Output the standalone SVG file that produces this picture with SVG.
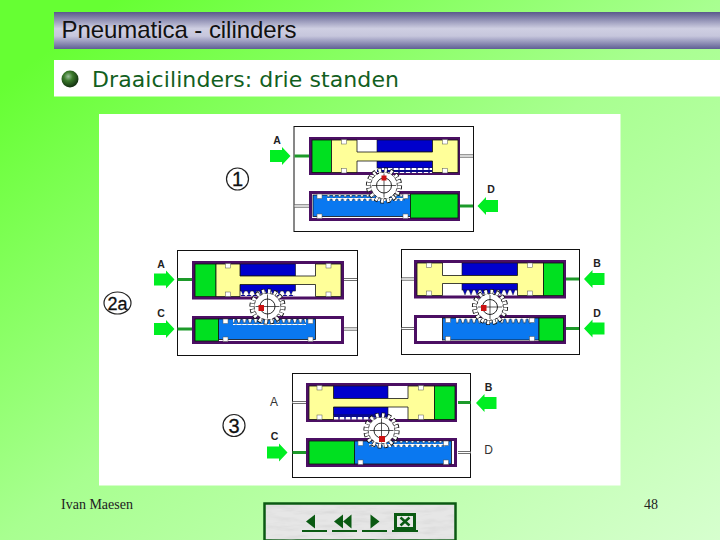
<svg xmlns="http://www.w3.org/2000/svg" width="720" height="540" viewBox="0 0 720 540">
<style>
.box{fill:#fff;stroke:#111;stroke-width:1}
.cyl{fill:#fff;stroke:#4b0f63;stroke-width:3}
.y{fill:#ffff99;stroke:#111;stroke-width:.8}
.g{fill:#00e020;stroke:#111;stroke-width:.8}
.b{fill:#0000cc;stroke:#111;stroke-width:.6}
.lb{fill:#0a78f0;stroke:#111;stroke-width:.8}
.n{fill:#fff;stroke:#555;stroke-width:.5}
.pg{stroke:#1d9a2a;stroke-width:3;fill:none}
.pw{stroke:#333;stroke-width:3;fill:none}
.pwi{stroke:#fff;stroke-width:1.600;fill:none}
.arr{fill:#00ee22}
.bold{font:bold 10.500px "Liberation Sans",Arial,sans-serif;fill:#222;text-anchor:middle}
.reg{font:12px "Liberation Sans",Arial,sans-serif;fill:#333;text-anchor:middle}
.num{font:20px "Liberation Sans",Arial,sans-serif;fill:#111;text-anchor:middle;stroke:#111;stroke-width:.3}
.ring{fill:#fff;stroke:#222;stroke-width:1.200}
.foot{font:14px "Liberation Serif","Times New Roman",serif;fill:#222}
.nav{fill:#0a5a12}
</style>
<defs>
<linearGradient id="bg" x1="0" y1="0" x2="1" y2="1">
<stop offset="0.08" stop-color="#66ff33"/><stop offset="0.5" stop-color="#a8ff90"/><stop offset="1" stop-color="#d6ffce"/>
</linearGradient>
<linearGradient id="bar" x1="0" y1="0" x2="0" y2="1">
<stop offset="0" stop-color="#5a5a8c"/><stop offset="0.45" stop-color="#cfcfe2"/><stop offset="0.65" stop-color="#c6c6dc"/><stop offset="1" stop-color="#5f5f94"/>
</linearGradient>
<radialGradient id="ball" cx="0.4" cy="0.35" r="0.65">
<stop offset="0" stop-color="#9cc09c"/><stop offset="0.4" stop-color="#3c7a2c"/><stop offset="1" stop-color="#12300f"/>
</radialGradient>
<filter id="marble" x="0" y="0" width="1" height="1">
<feTurbulence type="fractalNoise" baseFrequency="0.04 0.2" numOctaves="3" seed="4"/>
<feColorMatrix values="0 0 0 0 .6  0 0 0 0 .6  0 0 0 0 .6  .7 .7 0 0 -.62"/>
</filter>
<pattern id="rackDown" width="6" height="5" patternUnits="userSpaceOnUse">
<polygon points="1,0 5,0 3,5" fill="#0000cc" stroke="#111" stroke-width=".4"/>
</pattern>
<pattern id="rackW" width="6" height="5" patternUnits="userSpaceOnUse">
<rect width="6" height="5" fill="#fff"/><polygon points="0,0 6,0 6,2 3.800,2 3.500,5 2.500,5 2.200,2 0,2" fill="#0a0a8a"/>
</pattern>
<pattern id="rackUp" width="5.600" height="6" patternUnits="userSpaceOnUse">
<path d="M0 0H5.600V1L4.400 5H2.800L1.600 1H0Z" fill="#fff"/>
<path d="M0 1H1.600L2.800 5H4.400L5.600 1" fill="none" stroke="#123" stroke-width=".6"/>
</pattern>
<polygon id="aR" points="0,-6 12,-6 12,-9 20.500,0 12,9 12,6 0,6"/>
<polygon id="aL" points="0,-6 -12,-6 -12,-9 -20.500,0 -12,9 -12,6 0,6"/>
<rect id="no" class="n" x="0" y="0" width="5" height="4.500"/>
<g id="gear">
<circle r="15.500" fill="none" stroke="#111" stroke-width="5.200" pathLength="16" stroke-dasharray=".58 .42"/>
<circle r="15.300" fill="none" stroke="#fff" stroke-width="3.800" pathLength="16" stroke-dasharray=".42 .58" stroke-dashoffset="-.08"/>
<circle r="13.200" fill="#fff"/>
<circle r="13.200" fill="none" stroke="#111" stroke-width=".9" pathLength="16" stroke-dasharray=".44 .56" stroke-dashoffset="-.57"/>
<circle r="7.500" fill="#fff" stroke="#111" stroke-width=".9"/>
<path d="M-12 0H12M0-12V12" stroke="#111" stroke-width=".7"/>
</g>
</defs>

<rect id="background" width="720" height="540" fill="url(#bg)"/>
<g id="title"><rect x="54" y="12" width="666" height="37" fill="url(#bar)"/>
<text x="61.500" y="38" font-family="Liberation Sans,Arial,sans-serif" font-size="24" fill="#111" textLength="235">Pneumatica - cilinders</text></g>
<g id="subtitle"><rect x="54" y="60" width="666" height="36.500" fill="#fff"/>
<circle cx="70" cy="79" r="8.500" fill="url(#ball)"/>
<text x="92" y="87" font-family="DejaVu Sans,sans-serif" font-size="22" fill="#125f1e" textLength="307">Draaicilinders: drie standen</text></g>
<rect id="panel" x="99" y="114" width="521.500" height="371.500" fill="#fff"/>

<g id="state1">
<rect class="box" x="294" y="126.500" width="179.500" height="105"/>
<rect class="cyl" x="310.500" y="138.500" width="148" height="35"/>
<rect class="g" x="312" y="140" width="19.500" height="32.500"/>
<rect class="b" x="377" y="140" width="55.500" height="12"/>
<rect class="b" x="377" y="161" width="55.500" height="7"/>
<rect x="377" y="168" width="55" height="5" fill="url(#rackW)"/>
<path class="y" d="M331.500 140H357V152H432.500V140H458V172.500H432.500V161H357V172.500H331.500Z"/>
<use href="#no" x="341.500" y="139.500"/><use href="#no" x="341.500" y="168.500"/><use href="#no" x="442.500" y="139.500"/><use href="#no" x="442.500" y="168.500"/>
<rect class="cyl" x="310.500" y="192.500" width="148" height="27"/>
<rect x="312" y="194" width="99" height="24" fill="#fff"/>
<rect class="lb" x="313" y="195" width="97.500" height="21.500"/>
<rect x="327" y="195" width="78" height="6" fill="url(#rackUp)"/>
<rect class="g" x="410.500" y="194" width="47.500" height="24"/>
<use href="#no" x="317" y="194"/><use href="#no" x="403" y="194"/><use href="#no" x="317" y="214"/><use href="#no" x="403" y="214"/>
<use href="#gear" x="384" y="185.500"/>
<rect x="381.500" y="175.500" width="5" height="5" fill="#cc1111"/>
<g id="state1-pipes"><path class="pg" d="M294.500 156H309"/><path class="pw" d="M460 156H473"/><path class="pwi" d="M460 156H473"/><path class="pw" d="M294.500 206H309"/><path class="pwi" d="M294.500 206H309"/><path class="pg" d="M460 206H473"/></g>
<use href="#aR" class="arr" x="270" y="156"/><use href="#aL" class="arr" x="498" y="206"/>
<text class="bold" x="277" y="144">A</text><text class="bold" x="491" y="193">D</text>
<circle class="ring" cx="237.500" cy="179" r="11"/><text class="num" x="237.500" y="186">1</text>
</g>

<g id="state2a">
<rect class="box" x="177.500" y="250.500" width="180" height="105"/>
<rect class="cyl" x="193.500" y="262.500" width="149" height="35.500"/>
<rect class="g" x="195" y="264" width="21" height="32.500"/>
<rect class="b" x="240" y="264" width="55.500" height="12"/>
<rect class="b" x="240" y="284.500" width="55.500" height="6.500"/>
<rect x="240" y="291" width="55" height="5" fill="url(#rackDown)"/>
<path class="y" d="M216 264H240V276H315.500V264H341V296.500H315.500V284.500H240V296.500H216Z"/>
<use href="#no" x="225.500" y="263.500"/><use href="#no" x="225.500" y="292"/><use href="#no" x="326" y="263.500"/><use href="#no" x="326" y="292"/>
<rect class="cyl" x="193.500" y="317.500" width="149" height="25"/>
<rect class="lb" x="218.500" y="319" width="97" height="20.500"/>
<rect x="233" y="319" width="73" height="6" fill="url(#rackUp)"/>
<rect class="g" x="195" y="319" width="23.500" height="22"/>
<use href="#no" x="223" y="319"/><use href="#no" x="308" y="319"/><use href="#no" x="223" y="337"/><use href="#no" x="308" y="337"/>
<use href="#gear" x="267.500" y="306.500"/>
<rect x="258.500" y="305" width="5.500" height="6" fill="#cc1111"/>
<g id="state2a-pipes"><path class="pg" d="M177.500 279.500H192" stroke-width="1.500"/><path class="pw" d="M344 279.500H357"/><path class="pwi" d="M344 279.500H357"/><path class="pg" d="M177.500 329H192"/><path class="pw" d="M344 329H357"/><path class="pwi" d="M344 329H357"/></g>
<use href="#aR" class="arr" x="154" y="279.500"/><use href="#aR" class="arr" x="154" y="329"/>
<text class="bold" x="161" y="268">A</text><text class="bold" x="161" y="317">C</text>
<ellipse class="ring" cx="117.500" cy="303" rx="13.500" ry="11"/><text class="num" x="117.500" y="309.500" style="font-size:18px">2a</text>
</g>

<g id="state2b">
<rect class="box" x="401.500" y="249.500" width="178" height="105"/>
<rect class="cyl" x="415.500" y="261.500" width="149" height="35.500"/>
<rect class="b" x="462" y="263" width="55.500" height="12.500"/>
<rect class="b" x="462" y="283.500" width="55.500" height="6.500"/>
<rect x="462" y="290" width="55" height="5" fill="url(#rackDown)"/>
<path class="y" d="M417 263H442.500V275.500H517.500V263H543.500V295.500H517.500V283.500H442.500V295.500H417Z"/>
<rect class="g" x="543.500" y="263" width="20" height="32.500"/>
<use href="#no" x="426.500" y="263"/><use href="#no" x="426.500" y="291"/><use href="#no" x="527.500" y="263"/><use href="#no" x="527.500" y="291"/>
<rect class="cyl" x="415.500" y="316.500" width="149" height="26"/>
<rect class="lb" x="442.500" y="318" width="96.500" height="22"/>
<rect x="456" y="318" width="75" height="6" fill="url(#rackUp)"/>
<rect class="g" x="539" y="318" width="24.500" height="23"/>
<use href="#no" x="445.500" y="318"/><use href="#no" x="529.500" y="318"/><use href="#no" x="445.500" y="336.500"/><use href="#no" x="529.500" y="336.500"/>
<use href="#gear" x="490" y="307"/>
<rect x="481" y="305" width="5.500" height="6" fill="#cc1111"/>
<g id="state2b-pipes"><path class="pw" d="M401.500 279H414"/><path class="pwi" d="M401.500 279H414"/><path class="pg" d="M566 279H579"/><path class="pw" d="M401.500 328.500H414"/><path class="pwi" d="M401.500 328.500H414"/><path class="pg" d="M566 328.500H579"/></g>
<use href="#aL" class="arr" x="604.500" y="279"/><use href="#aL" class="arr" x="604.500" y="328.500"/>
<text class="bold" x="597" y="267">B</text><text class="bold" x="597" y="317">D</text>
</g>

<g id="state3">
<rect class="box" x="292.500" y="373.500" width="178" height="104"/>
<rect class="cyl" x="307.500" y="384.500" width="148" height="36"/>
<rect class="b" x="333.500" y="386" width="54.500" height="12.500"/>
<rect class="b" x="333.500" y="407" width="54.500" height="8"/>
<rect x="334" y="415" width="54" height="4.500" fill="url(#rackW)"/>
<path class="y" d="M309 386H333.500V398.500H408V386H434.500V419.500H408V407H333.500V419.500H309Z"/>
<rect class="g" x="434.500" y="386" width="20.500" height="33.500"/>
<use href="#no" x="317" y="385.500"/><use href="#no" x="317" y="415"/><use href="#no" x="418.500" y="385.500"/><use href="#no" x="418.500" y="415"/>
<rect class="cyl" x="307.500" y="439.500" width="148" height="26"/>
<rect class="lb" x="354.500" y="441" width="97" height="23"/>
<rect x="369" y="441" width="76" height="6" fill="url(#rackUp)"/>
<rect class="g" x="309" y="441" width="45.500" height="23"/>
<use href="#no" x="358" y="441"/><use href="#no" x="443.500" y="441"/><use href="#no" x="358" y="460"/><use href="#no" x="443.500" y="460"/>
<use href="#gear" x="381.500" y="430.500"/>
<rect x="379" y="436" width="6" height="6" fill="#cc1111"/>
<g id="state3-pipes"><path class="pw" d="M292.500 402.500H306"/><path class="pwi" d="M292.500 402.500H306"/><path class="pg" d="M458 402.500H470.500"/><path class="pg" d="M292.500 452.500H306"/><path class="pw" d="M458 452.500H470.500"/><path class="pwi" d="M458 452.500H470.500"/></g>
<use href="#aL" class="arr" x="496.500" y="403"/><use href="#aR" class="arr" x="267" y="452.500"/>
<text class="reg" x="274" y="405.500">A</text><text class="bold" x="488.500" y="390.500">B</text><text class="bold" x="274.500" y="440">C</text><text class="reg" x="488.500" y="454">D</text>
<circle class="ring" cx="234" cy="425.500" r="11"/><text class="num" x="234" y="432.500">3</text>
</g>

<g id="footer">
<text class="foot" x="61" y="509">Ivan Maesen</text>
<text class="foot" x="644" y="509">48</text>
</g>
<g id="nav">
<rect x="264.500" y="503.500" width="191" height="37" fill="#e6e6e6" stroke="#0a5a12" stroke-width="2.500"/>
<rect x="266" y="505" width="188" height="35" filter="url(#marble)"/>
<polygon class="nav" points="315,514.500 315,528.500 306,521.500"/>
<rect class="nav" x="302" y="530" width="25" height="2"/>
<polygon class="nav" points="343,514.500 343,528.500 334,521.500"/><polygon class="nav" points="351.500,514.500 351.500,528.500 343,521.500"/>
<rect class="nav" x="332" y="530" width="25" height="2"/>
<polygon class="nav" points="370.500,514.500 370.500,528.500 379.500,521.500"/>
<rect class="nav" x="362" y="530" width="25" height="2"/>
<rect class="nav" x="394" y="513" width="22" height="17"/><rect x="397" y="516" width="16" height="11" fill="#e8e8e8"/>
<path d="M400.500 517.500L409.500 525.500M409.500 517.500L400.500 525.500" stroke="#0a5a12" stroke-width="2.500"/>
<rect class="nav" x="392" y="530" width="26" height="2"/>
</g>
</svg>
